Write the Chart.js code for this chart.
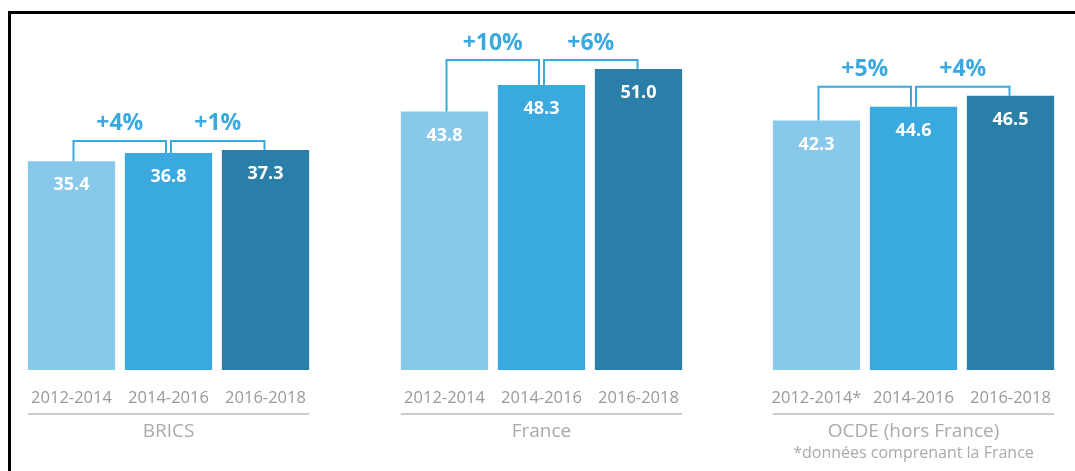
<!DOCTYPE html>
<html>
<head>
<meta charset="utf-8">
<script src="https://cdn.jsdelivr.net/npm/chart.js@4.4.0/dist/chart.umd.min.js"></script>
<style>
  html, body { margin: 0; padding: 0; background: #fff; }
  #wrap { position: relative; width: 1075px; height: 471px; overflow: hidden; }
  #frame { position: absolute; left: 8px; top: 11px; width: 1080px; height: 470px;
           border-top: 3px solid #000; border-left: 3px solid #000; }
  canvas { position: absolute; top: 0; }
</style>
</head>
<body>
<div id="wrap">
  <div id="frame"></div>
  <canvas id="c0" width="291" height="471" style="left:23px"></canvas>
  <canvas id="c1" width="291" height="471" style="left:396px"></canvas>
  <canvas id="c2" width="291" height="471" style="left:768px"></canvas>
</div>
<script>
// data
const periods = ['2012-2014', '2014-2016', '2016-2018'];
const periodsOcde = ['2012-2014*', '2014-2016', '2016-2018'];
const groupNames = ['BRICS', 'France', 'OCDE (hors France)'];
const bricsValues = [35.4, 36.8, 37.3];
const franceValues = [43.8, 48.3, 51.0];
const ocdeValues = [42.3, 44.6, 46.5];
const bricsGrowth = ['+4%', '+1%'];
const franceGrowth = ['+10%', '+6%'];
const ocdeGrowth = ['+5%', '+4%'];
const footnote = '*données comprenant la France';

const barColors = ['#88c9eb', '#39a9df', '#2a7ea8'];
const fontFamily = '"Open Sans", sans-serif';

const decorations = {
  id: 'decorations',
  afterDatasetsDraw(chart, args, opts) {
    const ctx = chart.ctx;
    const x = chart.scales.x;
    const y = chart.scales.y;
    const values = chart.data.datasets[0].data;
    const meta = chart.getDatasetMeta(0);
    ctx.save();

    // values inside the bars
    ctx.fillStyle = '#fff';
    ctx.font = 'bold 18px ' + fontFamily;
    ctx.textAlign = 'center';
    ctx.textBaseline = 'middle';
    values.forEach((v, i) => {
      ctx.fillText(v.toFixed(1), x.getPixelForValue(i), y.getPixelForValue(v) + 24);
    });

    // brackets with growth rates
    const tops = values.map(v => y.getPixelForValue(v));
    const lineY = Math.min(...tops) - 9;
    ctx.strokeStyle = '#39a9df';
    ctx.lineWidth = 2;
    const offs = [[2, -2.5], [2.5, -1]];
    opts.growth.forEach((g, i) => {
      const xa = x.getPixelForValue(i) + offs[i][0];
      const xb = x.getPixelForValue(i + 1) + offs[i][1];
      ctx.beginPath();
      ctx.moveTo(xa, tops[i]);
      ctx.lineTo(xa, lineY);
      ctx.lineTo(xb, lineY);
      ctx.lineTo(xb, tops[i + 1]);
      ctx.stroke();
      ctx.fillStyle = '#39a9df';
      ctx.font = 'bold 23px ' + fontFamily;
      ctx.fillText(g, (xa + xb) / 2, lineY - 17);
    });

    // period labels, separator and group name
    ctx.fillStyle = '#999';
    ctx.font = '16.5px ' + fontFamily;
    opts.periods.forEach((p, i) => {
      ctx.fillText(p, x.getPixelForValue(i), 398);
    });
    const left = meta.data[0].x - meta.data[0].width / 2;
    const right = meta.data[2].x + meta.data[2].width / 2;
    ctx.strokeStyle = '#cccccc';
    ctx.lineWidth = 2;
    ctx.beginPath();
    ctx.moveTo(left, 414);
    ctx.lineTo(right, 414);
    ctx.stroke();
    ctx.fillStyle = '#aaa';
    ctx.font = '19px ' + fontFamily;
    ctx.fillText(opts.name, (left + right) / 2, 432);
    if (opts.note) {
      ctx.font = '16px ' + fontFamily;
      ctx.fillText(opts.note, (left + right) / 2, 453);
    }
    ctx.restore();
  }
};

function makeChart(id, labels, values, name, growth, note) {
  return new Chart(document.getElementById(id), {
    type: 'bar',
    data: {
      labels: labels,
      datasets: [{
        data: values,
        backgroundColor: barColors,
        barPercentage: 0.9,
        categoryPercentage: 1.0
      }]
    },
    options: {
      responsive: false,
      animation: false,
      layout: { padding: { top: 16, bottom: 101, left: 0, right: 0 } },
      scales: {
        x: { display: false },
        y: { display: false, min: 0, max: 60 }
      },
      plugins: {
        legend: { display: false },
        tooltip: { enabled: false },
        decorations: { periods: labels, name: name, growth: growth, note: note }
      }
    },
    plugins: [decorations]
  });
}

makeChart('c0', periods, bricsValues, groupNames[0], bricsGrowth, null);
makeChart('c1', periods, franceValues, groupNames[1], franceGrowth, null);
makeChart('c2', periodsOcde, ocdeValues, groupNames[2], ocdeGrowth, footnote);
</script>
</body>
</html>
